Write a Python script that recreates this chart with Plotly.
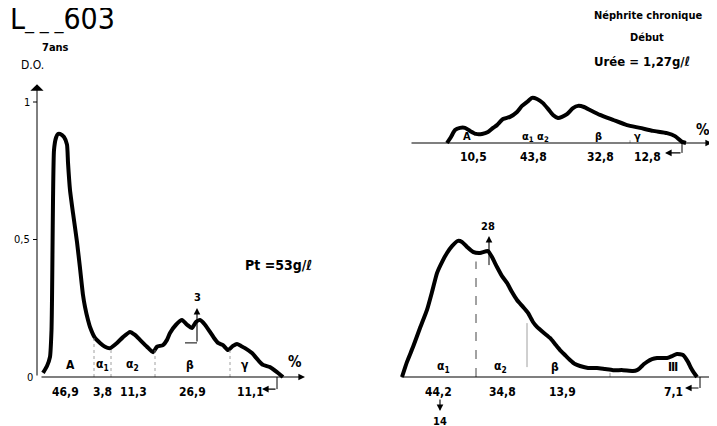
import plotly.graph_objects as go

# ---------------- data (migration in arbitrary units, density in D.O.) ----------------
# Left panel: L...603, 7 ans
left_x = [6, 10, 13, 14.5, 15, 15.5, 16, 17, 19, 21, 23, 27, 30, 31, 33, 36, 40, 43, 46, 48, 51, 53, 58, 63,
          68, 73, 80, 86, 93, 98, 103, 110, 116, 120, 126, 130, 133, 139, 145, 150, 155, 159, 163, 168,
          173, 177, 181, 186, 191, 196, 200, 204, 208, 215, 221, 226, 233, 240, 246]
left_y = [0.015, 0.04, 0.073, 0.17, 0.28, 0.46, 0.64, 0.825, 0.87, 0.884, 0.884, 0.873, 0.845, 0.78, 0.68,
          0.596, 0.491, 0.396, 0.298, 0.255, 0.207, 0.182, 0.142, 0.124, 0.11, 0.105, 0.124, 0.145, 0.164,
          0.153, 0.135, 0.11, 0.09, 0.11, 0.116, 0.135, 0.16, 0.19, 0.207, 0.19, 0.178, 0.2, 0.207, 0.19,
          0.164, 0.142, 0.124, 0.116, 0.098, 0.113, 0.12, 0.113, 0.105, 0.087, 0.062, 0.044, 0.036, 0.018, 0]
left_sep_x = [57, 74, 118, 193]
left_sep_top = [0.148, 0.105, 0.10, 0.104]
left_fractions = ["A", "α<sub>1</sub>", "α<sub>2</sub>", "β", "γ"]
left_fraction_x = [33, 65, 95, 153, 208]
left_values = ["46,9", "3,8", "11,3", "26,9", "11,1"]
left_value_x = [28, 65, 96, 155, 213]
left_ytick_vals = [0, 0.5, 1]
left_ytick_text = ["0", "0,5", "1"]

# Upper right panel: Néphrite chronique, début
ur_x = [37, 41, 45, 50, 55, 60, 66, 72, 78, 83, 87, 93, 100, 107, 112, 117, 122, 127, 133, 138, 143, 148,
        152, 157, 163, 168, 174, 180, 190, 203, 217, 230, 243, 257, 265, 272, 276]
ur_y = [0, 0.022, 0.047, 0.055, 0.055, 0.044, 0.033, 0.033, 0.04, 0.055, 0.065, 0.087, 0.095, 0.113,
        0.135, 0.149, 0.164, 0.16, 0.145, 0.124, 0.102, 0.091, 0.095, 0.105, 0.127, 0.135, 0.131, 0.12,
        0.102, 0.084, 0.065, 0.055, 0.044, 0.036, 0.025, 0.004, 0]
ur_fractions = ["A", "α<sub>1</sub> α<sub>2</sub>", "β", "γ"]
ur_fraction_x = [57, 125, 188, 227]
ur_values = ["10,5", "43,8", "32,8", "12,8"]
ur_value_x = [63, 123, 190, 237]

# Lower right panel
lr_x = [2, 7, 13, 20, 27, 32, 37, 42, 47, 52, 58, 62, 67, 73, 80, 88, 92, 97, 102, 107, 112, 117, 123,
        128, 133, 137, 144, 150, 155, 160, 165, 170, 175, 180, 188, 197, 205, 213, 223, 233, 237, 240,
        244, 247, 252, 257, 262, 267, 272, 277, 283, 288, 291, 294, 297]
lr_y = [0, 0.055, 0.109, 0.178, 0.244, 0.309, 0.378, 0.418, 0.451, 0.476, 0.495, 0.491, 0.473, 0.455,
        0.451, 0.458, 0.436, 0.4, 0.367, 0.342, 0.309, 0.28, 0.255, 0.233, 0.2, 0.182, 0.16, 0.142, 0.12,
        0.098, 0.08, 0.062, 0.047, 0.04, 0.033, 0.033, 0.029, 0.025, 0.025, 0.022, 0.025, 0.033, 0.047,
        0.055, 0.065, 0.069, 0.069, 0.069, 0.076, 0.084, 0.08, 0.055, 0.033, 0.015, 0]
lr_fractions = ["α<sub>1</sub>", "α<sub>2</sub>", "β", "Ⅲ"]
lr_fraction_x = [43, 100, 155, 273]
lr_values = ["44,2", "34,8", "13,9", "7,1"]
lr_value_x = [38, 102, 162, 273]

# ---------------- figure ----------------
FONT = "DejaVu Sans Condensed"
W, H = 709, 418   # page body adds an 8 px margin
fig = go.Figure()

def line(x, y, ax, width=1.0, color="black", dash=None, smooth=True):
    fig.add_trace(go.Scatter(x=x, y=y, mode="lines", xaxis="x" + ax, yaxis="y" + ax,
                             line=dict(color=color, width=width, dash=dash,
                                       shape="spline" if smooth else "linear", smoothing=0.5),
                             hoverinfo="skip", showlegend=False))

def txt(x, y, s, ax, size=12, bold=True, xanchor="center"):
    fig.add_annotation(x=x, y=y, text=s, xref="x" + ax, yref="y" + ax, showarrow=False,
                       xanchor=xanchor, yanchor="middle",
                       font=dict(family=FONT, size=size, color="black", weight="bold" if bold else "normal"))

def arrow(x0, y0, x1, y1, ax, width=1.1, head=2, size=1.2):
    fig.add_annotation(x=x1, y=y1, ax=x0, ay=y0, xref="x" + ax, yref="y" + ax,
                       axref="x" + ax, ayref="y" + ax, text="", showarrow=True,
                       arrowhead=head, arrowsize=size, arrowwidth=width, arrowcolor="black")

# Left panel
L = ""
line(left_x, left_y, L, width=4)
for sx, st in zip(left_sep_x, left_sep_top):
    line([sx, sx], [0, st], L, width=0.8, color="#888", dash="dot", smooth=False)
arrow(3, 0, 268, 0, L)
arrow(0, 0, 0, 1.065, L, width=1.0, head=1, size=2.2)
for v, t in zip(left_ytick_vals, left_ytick_text):
    if v > 0:
        line([-4, 0], [v, v], L, width=1.0, smooth=False)
    txt(-5 if v > 0 else -2, v, t, L, size=11, bold=False, xanchor="right")
for s, x in zip(left_fractions, left_fraction_x):
    txt(x, 0.044, s, L)
for s, x in zip(left_values, left_value_x):
    txt(x, -0.055, s, L)
line([240, 240], [0, -0.044], L, smooth=False)
arrow(240, -0.044, 225, -0.044, L)
line([148, 160], [0.124, 0.124], L, smooth=False)
arrow(160, 0.124, 160, 0.251, L)
txt(160, 0.29, "3", L, size=11)
txt(258, 0.055, "%", L, size=15)
txt(241, 0.407, "Pt =53g/ℓ", L, size=14)
txt(-5, 1.135, "D.O.", L, size=12, bold=False)
txt(18, 1.2, "7ans", L, size=11)

# Upper right panel
U = "2"
line(ur_x, ur_y, U, width=4)
line([220, 220], [0, 0.01], U, width=0.8, color="#888", smooth=False)
arrow(0, 0, 302, 0, U)
for s, x in zip(ur_fractions, ur_fraction_x):
    txt(x, 0.022, s, U, size=11)
for s, x in zip(ur_values, ur_value_x):
    txt(x, -0.051, s, U)
line([272, 272], [0, -0.036], U, smooth=False)
arrow(272, -0.036, 255, -0.036, U)
txt(293, 0.047, "%", U, size=15)
txt(238, 0.465, "Néphrite chronique", U, size=11)
txt(237, 0.385, "Début", U, size=11)
txt(232, 0.295, "Urée = 1,27g/ℓ", U, size=13)

# Lower right panel
R = "3"
line(lr_x, lr_y, R, width=4)
line([76, 76], [0, 0.42], R, width=1.0, color="#444", dash="dash", smooth=False)
line([127, 127], [0.036, 0.196], R, width=0.8, color="#888", smooth=False)
line([210, 210], [0, 0.015], R, width=0.8, color="#888", smooth=False)
arrow(0, 0, 316, 0, R)
for s, x in zip(lr_fractions, lr_fraction_x):
    txt(x, 0.036, s, R)
for s, x in zip(lr_values, lr_value_x):
    txt(x, -0.055, s, R)
line([89, 89], [0.407, 0.45], R, width=1.0, smooth=False)
arrow(89, 0.45, 89, 0.513, R)
txt(88, 0.549, "28", R, size=11)
arrow(40, -0.076, 40, -0.124, R)
txt(40, -0.16, "14", R, size=11)
line([300, 300], [0, -0.04], R, smooth=False)
arrow(300, -0.04, 285, -0.04, R)
txt(310, 0.062, "%", R, size=15, xanchor="left")

fig.add_annotation(x=0, y=1 - 11 / H, xref="paper", yref="paper",
                   text="L<span style='font-size:20px'>_ _ _</span>603", showarrow=False,
                   xanchor="left", yanchor="middle", font=dict(family=FONT, size=30, color="black"))

noax = dict(visible=False, showgrid=False, zeroline=False, domain=[0, 1])
fig.update_layout(
    width=W, height=H, margin=dict(l=0, r=0, t=0, b=0),
    paper_bgcolor="white", plot_bgcolor="rgba(0,0,0,0)", showlegend=False,
    xaxis=dict(range=[-29, 680], anchor="y", **noax),
    yaxis=dict(range=[-49 / 275, 369 / 275], anchor="x", **noax),
    xaxis2=dict(range=[-402, 307], anchor="y2", **noax),
    yaxis2=dict(range=[-283 / 275, 135 / 275], anchor="x2", **noax),
    xaxis3=dict(range=[-392, 317], anchor="y3", **noax),
    yaxis3=dict(range=[-49 / 275, 369 / 275], anchor="x3", **noax),
)

fig.write_html("out.html")
